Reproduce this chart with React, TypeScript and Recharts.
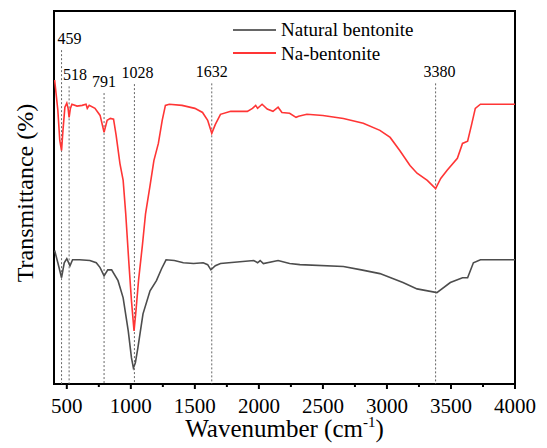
import React from 'react';
import {
  LineChart,
  Line,
  XAxis,
  YAxis,
  ReferenceLine,
  ReferenceArea,
  Legend,
} from 'recharts';

// wavenumber (cm-1) / transmittance (a.u.)
const NA_WAVENUMBER = [405, 430, 445, 459, 470, 485, 500, 510, 518, 528, 540, 580, 620, 650, 660, 675, 720, 760, 791, 815, 840, 865, 885, 915, 940, 960, 985, 1005, 1025, 1040, 1060, 1090, 1115, 1150, 1180, 1215, 1245, 1270, 1300, 1400, 1500, 1560, 1600, 1632, 1660, 1700, 1780, 1910, 1950, 1975, 1990, 2025, 2065, 2110, 2150, 2180, 2240, 2290, 2310, 2375, 2500, 2660, 2815, 2945, 3025, 3100, 3180, 3235, 3315, 3380, 3420, 3470, 3550, 3590, 3630, 3660, 3690, 3730, 4000];
const NA_TRANSMITTANCE = [81.5, 73.4, 65.3, 62.6, 68.0, 74.2, 75.3, 73.9, 71.5, 73.9, 75.0, 74.5, 74.7, 75.0, 73.9, 74.7, 73.9, 72.0, 67.5, 70.7, 71.2, 71.0, 66.7, 59.1, 54.6, 45.7, 32.3, 22.3, 14.2, 19.6, 27.7, 37.1, 45.7, 53.2, 59.9, 64.5, 70.7, 74.7, 75.0, 74.7, 73.9, 72.8, 70.7, 67.2, 69.6, 72.3, 73.1, 73.1, 73.9, 74.7, 73.9, 75.0, 73.7, 73.1, 74.2, 72.8, 72.6, 71.5, 71.8, 72.3, 72.0, 71.2, 69.9, 68.0, 66.1, 62.6, 58.6, 56.5, 54.6, 52.4, 55.1, 57.3, 60.5, 64.5, 65.1, 69.4, 73.9, 75.0, 75.0];

const NAT_WAVENUMBER = [405, 430, 459, 480, 500, 525, 545, 600, 680, 730, 760, 791, 820, 850, 900, 940, 980, 1005, 1020, 1035, 1055, 1095, 1150, 1200, 1240, 1275, 1340, 1410, 1490, 1565, 1600, 1625, 1660, 1700, 1960, 1990, 2010, 2035, 2150, 2240, 2320, 2660, 2800, 2945, 3125, 3235, 3390, 3495, 3590, 3630, 3675, 3730, 4000];
const NAT_TRANSMITTANCE = [35.8, 32.5, 28.5, 32.5, 33.6, 31.7, 33.3, 33.3, 33.1, 32.5, 31.2, 29.0, 30.6, 30.6, 27.7, 23.1, 14.2, 7.0, 4.3, 5.6, 9.7, 18.8, 25.0, 27.7, 30.9, 33.3, 33.1, 32.5, 32.3, 32.5, 32.0, 30.6, 31.7, 32.3, 33.1, 32.5, 33.1, 32.3, 33.1, 32.3, 32.0, 31.5, 30.6, 29.6, 27.2, 25.5, 24.5, 27.2, 28.5, 28.5, 32.5, 33.3, 33.3];

const PEAKS = ['459', '518', '791', '1028', '1632', '3380'];
const X_TICKS = [500, 750, 1000, 1250, 1500, 1750, 2000, 2250, 2500, 2750, 3000, 3250, 3500, 3750, 4000];
const SERIES_NAMES = ['Natural bentonite', 'Na-bentonite'];

// where each dashed marker starts and how far its label is nudged
const PEAK_TOP = [89.5, 79.8, 78.0, 80.4, 80.6, 80.6];
const PEAK_DX = [8, 6, 0, 3, 0, 4];

const FONT = '"Liberation Serif", "Times New Roman", serif';
const serif = { fontFamily: FONT };
const RED = '#ff3535';
const GRAY = '#4d4d4d';

const naData = NA_WAVENUMBER.map((x, i) => ({ x, t: NA_TRANSMITTANCE[i] }));
const natData = NAT_WAVENUMBER.map((x, i) => ({ x, t: NAT_TRANSMITTANCE[i] }));

const AxisTick = (props: any) => {
  const { x, y, payload } = props;
  const major = payload.value % 500 === 0;
  return (
    <g>
      <line x1={x} x2={x} y1={y} y2={y + (major ? 5 : 3)} stroke="#000" strokeWidth={2} />
      {major && (
        <text x={x} y={y + 29} textAnchor="middle" fontSize={21} style={serif} fill="#000">
          {payload.value}
        </text>
      )}
    </g>
  );
};

const PeakLabel = (props: any) => {
  const { viewBox, value, dx } = props;
  return (
    <text x={viewBox.x + dx} y={viewBox.y - 6} textAnchor="middle" fontSize={16} style={serif} fill="#000">
      {value}
    </text>
  );
};

const LegendBox = () => (
  <svg width={200} height={50}>
    <line x1={3} x2={46} y1={12} y2={12} stroke="#666" strokeWidth={2} />
    <text x={51} y={18} fontSize={19} style={serif} fill="#000">{SERIES_NAMES[0]}</text>
    <line x1={3} x2={46} y1={35} y2={35} stroke={RED} strokeWidth={2} />
    <text x={51} y={42} fontSize={19} style={serif} fill="#000">{SERIES_NAMES[1]}</text>
  </svg>
);

const App: React.FC = () => {
  return (
    <div style={{ position: 'absolute', left: 0, top: 0, width: 547, height: 448, background: '#fff', fontFamily: FONT }}>
      <LineChart width={547} height={448} margin={{ top: 11, right: 32, bottom: 0, left: 0 }} style={serif}>
        <XAxis
          type="number"
          dataKey="x"
          domain={[400, 4000]}
          ticks={X_TICKS}
          interval={0}
          allowDataOverflow
          height={64}
          axisLine={false}
          tickLine={false}
          tickSize={0}
          tickMargin={0}
          tick={<AxisTick />}
          label={() => (
            <text x={284.5} y={437} textAnchor="middle" fontSize={25} style={serif} fill="#000">
              Wavenumber (cm
              <tspan dy={-10} fontSize={15}>-1</tspan>
              <tspan dy={10}>)</tspan>
            </text>
          )}
        />
        <YAxis
          type="number"
          domain={[0, 100]}
          width={54}
          axisLine={false}
          tickLine={false}
          tick={false}
          label={() => (
            <text
              x={33}
              y={193}
              transform="rotate(-90 33 193)"
              textAnchor="middle"
              fontSize={24}
              style={serif}
              fill="#000"
            >
              Transmittance (%)
            </text>
          )}
        />
        {PEAKS.map((p, i) => (
          <ReferenceLine
            key={p}
            segment={[{ x: Number(p), y: PEAK_TOP[i] }, { x: Number(p), y: 0 }]}
            stroke="#666"
            strokeDasharray="2 2"
            strokeWidth={1}
            label={(lp: any) => <PeakLabel {...lp} value={p} dx={PEAK_DX[i]} />}
          />
        ))}
        <Line
          data={natData}
          dataKey="t"
          name={SERIES_NAMES[0]}
          stroke={GRAY}
          strokeWidth={1.6}
          dot={false}
          type="linear"
          isAnimationActive={false}
        />
        <Line
          data={naData}
          dataKey="t"
          name={SERIES_NAMES[1]}
          stroke={RED}
          strokeWidth={1.6}
          dot={false}
          type="linear"
          isAnimationActive={false}
        />
        <ReferenceArea x1={400} x2={4000} y1={0} y2={100} fill="none" stroke="#000" strokeWidth={2} />
        <Legend
          layout="vertical"
          align="center"
          verticalAlign="middle"
          content={<LegendBox />}
          wrapperStyle={{ left: 230, top: 18, width: 200, height: 50 }}
        />
      </LineChart>
    </div>
  );
};

export default App;
